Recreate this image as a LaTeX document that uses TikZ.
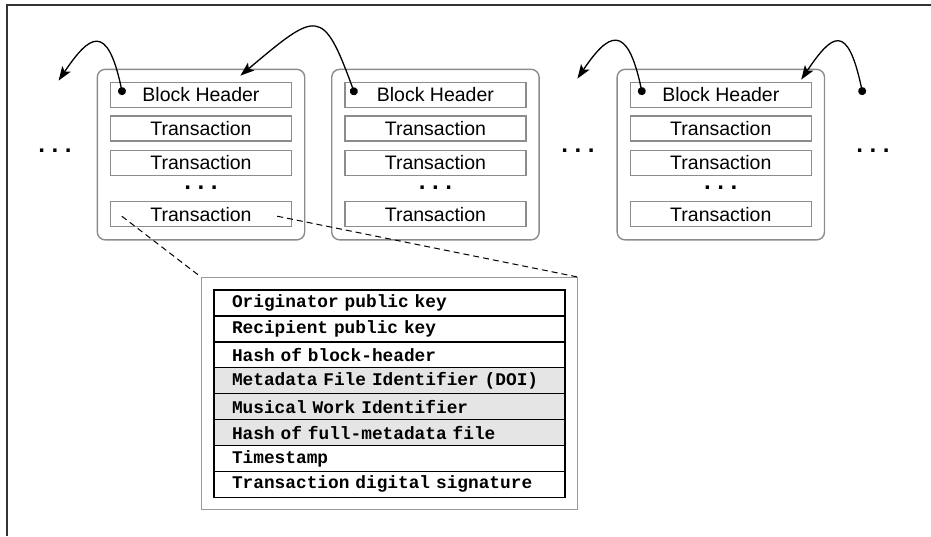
\documentclass[tikz,border=0pt]{standalone}
\usepackage{fontspec}
\setmainfont{Liberation Sans}
\newfontfamily\fieldfont{Liberation Mono}
\newfontfamily\dotfont{DejaVu Sans}
\usetikzlibrary{positioning,fit,arrows.meta}

\begin{document}
\begin{tikzpicture}
[x=1pt,y=1pt,%
  row/.style={draw=gray!90,line width=1.4pt,minimum width=181pt,minimum height=25pt,inner sep=0pt,font=\fontsize{19.5}{20}\selectfont},%
  block/.style={draw=gray!90,line width=1.4pt,rounded corners=8pt,inner sep=12.5pt},%
  field/.style={draw,line width=1.4pt,outer sep=0pt,minimum height=25.9pt,inner xsep=18pt,inner ysep=0pt,text width=315pt,align=left,font=\fieldfont\bfseries\fontsize{17.8}{18}\selectfont},%
  shaded/.style={field,fill=gray!20},%
  dots/.style={font=\dotfont\bfseries\fontsize{19}{19}\selectfont,inner sep=0pt,text height=3.5pt,text depth=0pt},%
  link/.style={line width=1.3pt,{Circle[length=8pt]}-{Stealth[length=14pt,width=10pt,inset=3pt]}},%
  zoomline/.style={line width=1pt,dash pattern=on 6pt off 4pt}]
\useasboundingbox (0,0) rectangle (931,-536);
\draw[line width=2pt,black!80] (931,-4.5) -- (6.5,-4.5) -- (6.5,-536);
\newcommand{\ellip}{.\hspace{6pt}.\hspace{6pt}.}

% first block
\node[row] (h1) at (201,-95) {Block Header};
\node[row,below=7pt of h1] (t11) {Transaction};
\node[row,below=8pt of t11] (t12) {Transaction};
\node[dots,below=13pt of t12,anchor=base] (d1) {\ellip};
\node[row,below=25pt of t12] (t13) {Transaction};
\node[block,fit=(h1)(t13)] (b1) {};

% second block
\node[row,right=52pt of h1] (h2) {Block Header};
\node[row,below=7pt of h2] (t21) {Transaction};
\node[row,below=8pt of t21] (t22) {Transaction};
\node[dots,below=13pt of t22,anchor=base] (d2) {\ellip};
\node[row,below=25pt of t22] (t23) {Transaction};
\node[block,fit=(h2)(t23)] (b2) {};

% last block
\node[row,right=103pt of h2] (h3) {Block Header};
\node[row,below=7pt of h3] (t31) {Transaction};
\node[row,below=8pt of t31] (t32) {Transaction};
\node[dots,below=13pt of t32,anchor=base] (d3) {\ellip};
\node[row,below=25pt of t32] (t33) {Transaction};
\node[block,fit=(h3)(t33)] (b3) {};

\node[dots,anchor=base] (gl) at (55,-152) {\ellip};
\node[dots,anchor=base] (gm) at (578,-152) {\ellip};
\node[dots,anchor=base] (gr) at (873,-152) {\ellip};

% transaction fields
\node[field] (f1) at (389.5,-303) {Originator public key};
\node[field,below=0pt of f1] (f2) {Recipient public key};
\node[field,below=0pt of f2] (f3) {Hash of block-header};
\node[shaded,below=0pt of f3] (f4) {Metadata File Identifier (DOI)};
\node[shaded,below=0pt of f4] (f5) {Musical Work Identifier};
\node[shaded,below=0pt of f5] (f6) {Hash of full-metadata file};
\node[field,below=0pt of f6] (f7) {Timestamp};
\node[field,below=0pt of f7] (f8) {Transaction digital signature};
\node[draw=gray!80,line width=1pt,inner sep=12.5pt,fit=(f1)(f8)] (detail) {};

\coordinate (z1) at ([xshift=12pt,yshift=-2pt]t13.west);
\coordinate (z2) at ([xshift=-15pt,yshift=-2pt]t13.east);
\draw[zoomline] (z1) -- (detail.north west);
\draw[zoomline] (z2) -- (detail.north east);

% links between blocks
\coordinate (s1) at ([xshift=13pt]h1.west);
\coordinate (s2) at ([xshift=11pt]h2.west);
\coordinate (s3) at ([xshift=13pt]h3.west);
\coordinate (s4) at ([xshift=51pt]h3.east);
\coordinate (e1) at ([xshift=-38pt,yshift=-12pt]b1.north west);
\coordinate (e2) at ([xshift=-65pt,yshift=-7pt]b1.north east);
\coordinate (e3) at ([xshift=-39pt,yshift=-10pt]b3.north west);
\coordinate (e4) at ([xshift=-24pt,yshift=-11pt]b3.north east);
\draw[link] (s1) .. controls +(102:75) and +(56:55) .. (e1);
\draw[link] (s2) .. controls +(110:95) and +(40:100) .. (e2);
\draw[link] (s3) .. controls +(102:75) and +(56:55) .. (e3);
\draw[link] (s4) .. controls +(102:75) and +(56:55) .. (e4);
\end{tikzpicture}
\end{document}
